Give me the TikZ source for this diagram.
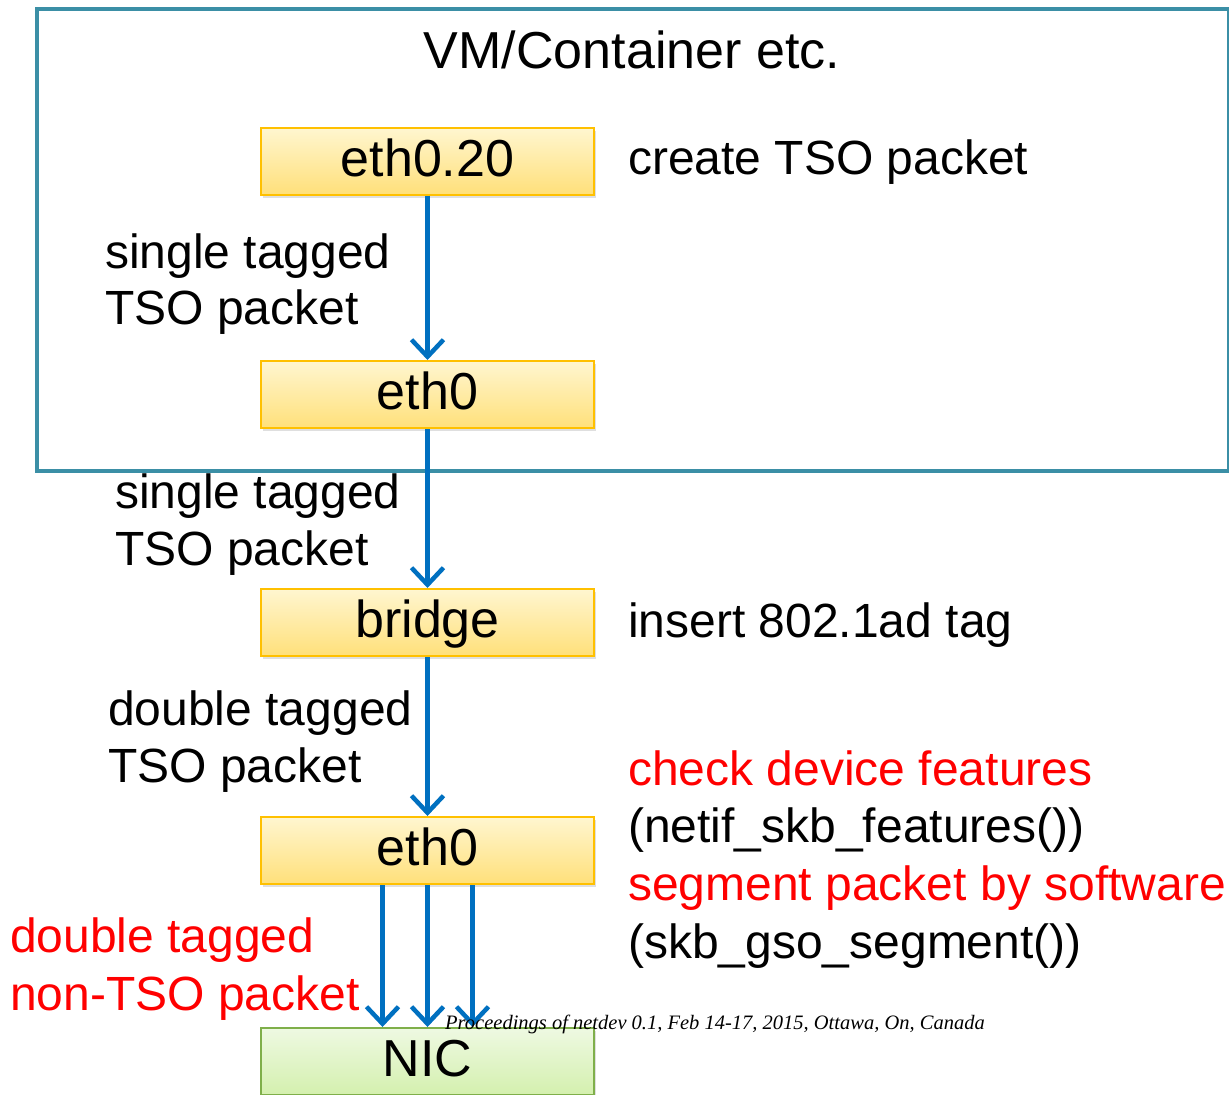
\documentclass[tikz,border=0pt]{standalone}
\usepackage{fontspec}
\setmainfont{Liberation Sans}
\newfontfamily\footfont{Liberation Serif}
\usetikzlibrary{arrows.meta,shadows}
\definecolor{arrblue}{HTML}{0070C0}
\definecolor{frameteal}{HTML}{3B8FA6}
\definecolor{boxedge}{HTML}{FFC000}
\definecolor{boxtop}{HTML}{FFF6D0}
\definecolor{boxbot}{HTML}{FFE07A}
\definecolor{nicedge}{HTML}{7FAF4A}
\definecolor{nictop}{HTML}{EEF9E2}
\definecolor{nicbot}{HTML}{D4F0AE}
\definecolor{redtxt}{HTML}{FF0000}
\tikzset{
  x=1pt,y=-1pt,
  devbox/.style={draw=boxedge,line width=2pt,top color=boxtop,bottom color=boxbot,
    minimum width=333pt,minimum height=67pt,inner sep=0pt,
    text height=40pt,text depth=10pt,
    font=\fontsize{52}{60}\selectfont,
    drop shadow={shadow xshift=2pt,shadow yshift=-3pt,opacity=0.25}},
  nicbox/.style={devbox,draw=nicedge,top color=nictop,bottom color=nicbot},
  lbl/.style={anchor=base west,inner sep=0pt,font=\fontsize{48}{56}\selectfont},
  redlbl/.style={lbl,text=redtxt},
  flow/.style={draw=arrblue,line width=5pt,-{Straight Barb[length=17pt,width=32pt,line width=4.5pt]}},
}
\begin{document}
\begin{tikzpicture}
\useasboundingbox (0,0) rectangle (1229,1095);
% outer frame
\node[draw=frameteal,line width=4pt,minimum width=1192pt,minimum height=462pt,inner sep=0pt,anchor=north west] (frame) at (35,7) {};
\node[anchor=base,inner sep=0pt,font=\fontsize{52}{60}\selectfont] (title) at (632,68) {VM/Container etc.};
% boxes
\node[devbox] (eth020) at (427.5,161) {eth0.20};
\node[devbox] (eth0a) at (427.5,394.5) {eth0};
\node[devbox] (bridge) at (427.5,622.5) {bridge};
\node[devbox] (eth0b) at (427.5,850.5) {eth0};
\node[nicbox] (nic) at (427.5,1061.5) {NIC};
% arrows
\draw[flow] (eth020.south) -- (eth0a.north);
\draw[flow] (eth0a.south) -- (bridge.north);
\draw[flow] (bridge.south) -- (eth0b.north);
\draw[flow] ([xshift=-45pt]eth0b.south) -- ([xshift=-45pt]nic.north);
\draw[flow] (eth0b.south) -- (nic.north);
\draw[flow] ([xshift=45pt]eth0b.south) -- ([xshift=45pt]nic.north);
% labels left
\node[lbl] (l1a) at (105,268) {single tagged};
\node[lbl] (l1b) at (105,324) {TSO packet};
\node[lbl] (l2a) at (115,508) {single tagged};
\node[lbl] (l2b) at (115,565) {TSO packet};
\node[lbl] (l3a) at (108,725) {double tagged};
\node[lbl] (l3b) at (108,782) {TSO packet};
\node[redlbl] (l4a) at (10,952) {double tagged};
\node[redlbl] (l4b) at (10,1010) {non-TSO packet};
% labels right
\node[lbl] (r1) at (628,174) {create TSO packet};
\node[lbl] (r2) at (628,637) {insert 802.1ad tag};
\node[redlbl] (r3) at (628,785) {check device features};
\node[lbl] (r4) at (628,842) {(netif\_skb\_features())};
\node[redlbl] (r5) at (628,900) {segment packet by software};
\node[lbl] (r6) at (628,958) {(skb\_gso\_segment())};
% footer
\node[anchor=base west,inner sep=0pt,font=\footfont\itshape\fontsize{20.5}{24}\selectfont] (foot) at (445,1029) {Proceedings of netdev 0.1, Feb 14-17, 2015, Ottawa, On, Canada};
\end{tikzpicture}
\end{document}
